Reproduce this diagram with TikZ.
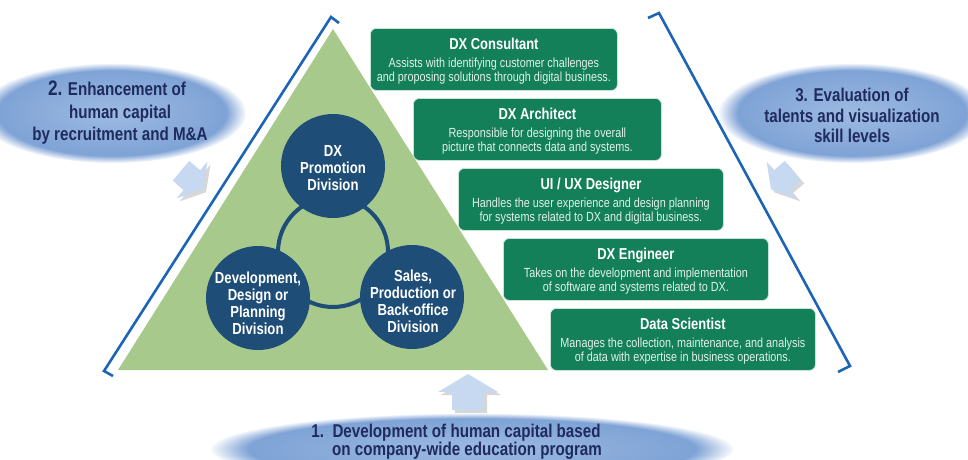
\documentclass[tikz,border=0pt]{standalone}
\usepackage{fontspec}
\setmainfont{Liberation Sans}[FakeStretch=0.82]
\usetikzlibrary{fadings,calc}
\definecolor{tri}{HTML}{A7C98B}
\definecolor{navy}{HTML}{1E4D78}
\definecolor{boxg}{HTML}{13805A}
\definecolor{boxline}{HTML}{C8E3D5}
\definecolor{desctxt}{HTML}{E2F0E8}
\definecolor{brk}{HTML}{1C64B5}
\definecolor{ellin}{HTML}{9DBAE2}
\definecolor{ellout}{HTML}{7A9FD4}
\definecolor{arr}{HTML}{C6D9F0}
\definecolor{etxt}{HTML}{1F2B5E}
\newcommand\arrpath{(18,0) -- (0,30) -- (0,16) -- (-18,16) -- (-18,-16) -- (0,-16) -- (0,-30) -- cycle}
\newcommand\blkarrow[4]{%
  \begin{scope}[shift={($(#1,#2)+(3,3)$)}, rotate=#3, scale=#4]
    \fill[black!45, opacity=.35] \arrpath;
  \end{scope}
  \begin{scope}[shift={(#1,#2)}, rotate=#3, scale=#4]
    \fill[arr] \arrpath;
  \end{scope}}
\newcommand\rolebox[7]{%
  \node[rbox, minimum width=#4pt, anchor=north west] (#1) at (#2,#3) {};
  \node[rtitle] (#1t) at ($(#1.north)+(0,21.5)$) {#5};
  \node[rdesc] (#1a) at ($(#1.north)+(0,39)$) {#6};
  \node[rdesc] (#1b) at ($(#1.north)+(0,53)$) {#7};}
\begin{document}
\begin{tikzpicture}[x=1pt,y=-1pt,
  rbox/.style={draw=boxline, line width=0.8pt, fill=boxg, rounded corners=6pt, minimum height=62pt, inner sep=0pt},
  rtitle/.style={anchor=base, inner sep=0pt, text=white, font=\fontsize{15.8}{17}\selectfont\bfseries},
  rdesc/.style={anchor=base, inner sep=0pt, text=desctxt, font=\fontsize{13.2}{14}\selectfont},
  divc/.style={circle, fill=navy, minimum size=104pt, inner sep=0pt},
  divt/.style={inner sep=0pt, align=center, text=white, font=\fontsize{16}{17}\selectfont\bfseries},
  etext/.style={anchor=base, inner sep=0pt, text=etxt, font=\fontsize{18.5}{21}\selectfont\bfseries}]
\clip (0,0) rectangle (968,459);
\useasboundingbox (0,0) rectangle (968,459);
% soft ellipses
\shade[inner color=ellin, outer color=ellout, path fading=circle with fuzzy edge 15 percent] (112,113) ellipse [x radius=134pt, y radius=50pt];
\shade[inner color=ellin, outer color=ellout, path fading=circle with fuzzy edge 15 percent] (852,113) ellipse [x radius=134pt, y radius=50pt];
\shade[inner color=ellin, outer color=ellout, path fading=circle with fuzzy edge 15 percent] (472,449) ellipse [x radius=262pt, y radius=36pt];
% ellipse texts
\node[etext] (e2a) at (117,95) {{\fontsize{21}{21}\selectfont 2.} Enhancement of};
\node[etext] (e2b) at (120,118) {human capital};
\node[etext] (e2c) at (120,140) {by recruitment and M\&A};
\node[etext] (e3a) at (852,101) {3. Evaluation of};
\node[etext] (e3b) at (852,122) {talents and visualization};
\node[etext] (e3c) at (852,142) {skill levels};
\node[etext] (e1a) at (456,437) {1.\ \ Development of human capital based};
\node[etext] (e1b) at (467,455) {on company-wide education program};
% block arrows
\blkarrow{468}{392}{90}{1}
\blkarrow{192}{180}{-40}{0.8}
\blkarrow{782}{180}{-140}{0.8}
% triangle
\fill[tri] (118,370) -- (333,29) -- (548,370) -- cycle;
% ring and division circles
\draw[navy, line width=4pt] (333,252) circle [radius=55pt];
\node[divc] (dx) at (333,166) {};
\node[divc] (dev) at (258,298) {};
\node[divc] (sales) at (412,297) {};
\node[divt] (dxt) at (333,168) {DX\\Promotion\\Division};
\node[divt] (devt) at (258,303) {Development,\\Design or\\Planning\\Division};
\node[divt] (salest) at (413,301) {Sales,\\Production or\\Back-office\\Division};
% role boxes
\rolebox{b1}{370}{28}{247}{DX Consultant}{Assists with identifying customer challenges}{and proposing solutions through digital business.}
\rolebox{b2}{413}{98}{248}{DX Architect}{Responsible for designing the overall}{picture that connects data and systems.}
\rolebox{b3}{458}{168}{265}{UI / UX Designer}{Handles the user experience and design planning}{for systems related to DX and digital business.}
\rolebox{b4}{503}{238}{265}{DX Engineer}{Takes on the development and implementation}{of software and systems related to DX.}
\rolebox{b5}{550}{308}{265}{Data Scientist}{Manages the collection, maintenance, and analysis}{of data with expertise in business operations.}
% brackets
\draw[brk, line width=2.6pt] (339,23) -- (331,17) -- (104,371) -- (113,376);
\draw[brk, line width=2.6pt] (648,18) -- (659,13) -- (850,366) -- (838,372);
\end{tikzpicture}
\end{document}
